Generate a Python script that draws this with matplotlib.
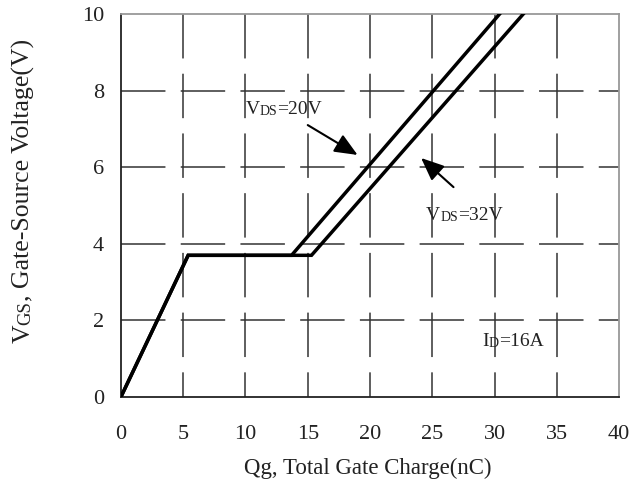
import matplotlib
matplotlib.use('Agg')
import matplotlib.pyplot as plt

plt.rcParams['font.family'] = ['Liberation Serif', 'DejaVu Serif']
plt.rcParams['lines.scale_dashes'] = False

# gate charge curves (Qg in nC, Vgs in V)
qg_20v = [0, 5.4, 13.7, 30.4]
vgs_20v = [0, 3.7, 3.7, 10.0]
qg_32v = [0, 5.4, 15.3, 32.3]
vgs_32v = [0, 3.7, 3.7, 10.0]

x_ticks = [0, 5, 10, 15, 20, 25, 30, 35, 40]
y_ticks = [0, 2, 4, 6, 8, 10]

GRID_DASH = (32, 11)
INK = '#222222'


def rich_label(ax, x, y, pieces, **kw):
    # pieces: list of (text, fontsize); drawn left to right on one baseline
    t = ax.text(x, y, pieces[0][0], fontsize=pieces[0][1], ha='left', va='center',
                color=INK, **kw)
    for s, fs in pieces[1:]:
        t = ax.annotate(s, xy=(1, 0), xycoords=t, fontsize=fs, ha='left', va='bottom',
                        color=INK)
    return t


def rich_vlabel(ax, x, y, pieces):
    # same idea, rotated to read bottom to top
    t = ax.text(x, y, pieces[0][0], fontsize=pieces[0][1], rotation=90,
                ha='center', va='bottom', transform=ax.transAxes, color=INK)
    for s, fs in pieces[1:]:
        t = ax.annotate(s, xy=(1, 1), xycoords=t, fontsize=fs, rotation=90,
                        ha='right', va='bottom', color=INK)
    return t


fig = plt.figure(figsize=(6.43, 4.83), dpi=100)
ax = fig.add_axes([0.188, 0.178, 0.775, 0.793])

# dashed grid, vertical dashes start at the top, horizontal at the left
for xv in x_ticks[1:-1]:
    ax.plot([xv, xv], [10, 0], color='#333333', lw=1.1, dashes=GRID_DASH, zorder=1)
for yv in y_ticks[1:-1]:
    ax.plot([0, 40], [yv, yv], color='#333333', lw=1.1, dashes=GRID_DASH, zorder=1)

ax.plot(qg_32v, vgs_32v, color='black', lw=2.5, solid_joinstyle='miter', zorder=3)
ax.plot(qg_20v, vgs_20v, color='black', lw=2.5, solid_joinstyle='miter', zorder=3)

arrow = dict(arrowstyle='-|>,head_length=0.7,head_width=0.3', mutation_scale=20,
             color='black', lw=1.5, shrinkA=0, shrinkB=0)
ax.annotate('', xy=(19.0, 6.32), xytext=(15.0, 7.1), arrowprops=arrow)
ax.annotate('', xy=(24.1, 6.24), xytext=(26.7, 5.48), arrowprops=arrow)

rich_label(ax, 10.0, 7.5, [('V', 14), ('DS', 10), ('=20V', 14)])
rich_label(ax, 24.5, 4.75, [('V', 14), ('DS', 10), ('=32V', 14)])
rich_label(ax, 29.0, 1.44, [('I', 14), ('D', 10), ('=16A', 14)])

ax.set_xlim(0, 40)
ax.set_ylim(0, 10)
ax.set_xticks(x_ticks)
ax.set_yticks(y_ticks)
ax.tick_params(axis='both', length=0, labelsize=16, colors=INK)
ax.tick_params(axis='x', pad=20)
ax.tick_params(axis='y', pad=12)

for side in ('left', 'bottom'):
    ax.spines[side].set_color(INK)
    ax.spines[side].set_linewidth(1.3)
for side in ('top', 'right'):
    ax.spines[side].set_color('#999999')
    ax.spines[side].set_linewidth(1.3)

ax.set_xlabel('Qg, Total Gate Charge(nC)', fontsize=16.5, color=INK)
ax.xaxis.set_label_coords(0.496, -0.158)

rich_vlabel(ax, -0.195, 0.14, [('V', 18.5), ('GS', 13.5), (', Gate-Source Voltage(V)', 18.5)])

fig.savefig('out.png', dpi=100)
